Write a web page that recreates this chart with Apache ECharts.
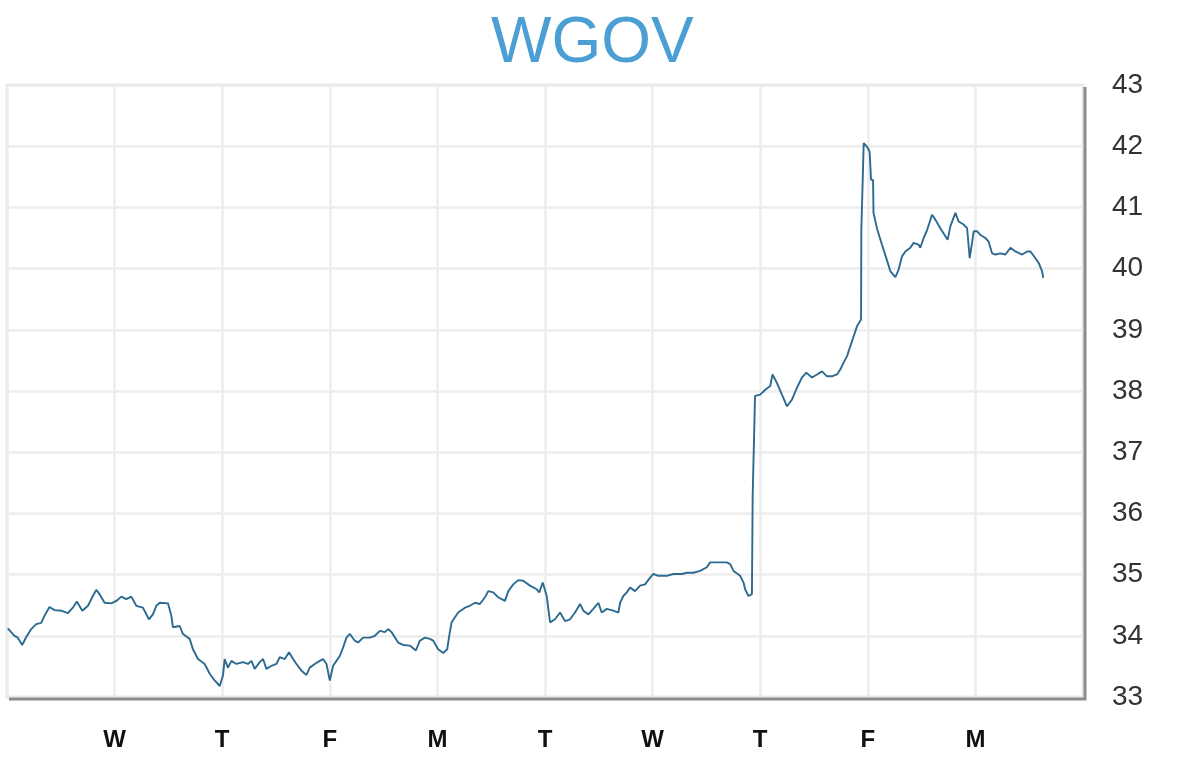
<!DOCTYPE html>
<html>
<head>
<meta charset="utf-8">
<script src="https://cdn.jsdelivr.net/npm/echarts@6/dist/echarts.min.js"></script>
<style>
  html, body { margin: 0; padding: 0; background: #ffffff; }
  #chart { width: 1200px; height: 771px; }
</style>
</head>
<body>
<div id="chart"></div>
<script>
// Chart title
const chartTitle = 'WGOV';

// X tick labels (trading days), placed at day boundaries 1..9
const dayLabels = ['W', 'T', 'F', 'M', 'T', 'W', 'T', 'F', 'M'];

// Y tick range
const yMin = 33;
const yMax = 43;

// Time position (in trading days from the left edge) of each price sample
const times = [
  0.007,0.070,0.100,0.141,0.179,0.225,0.272,0.318,0.349,0.395,0.442,0.504,0.566,0.612,0.649,0.700,0.752,0.798,0.830,0.860,
  0.907,0.969,1.016,1.062,1.109,1.155,1.202,1.263,1.319,1.356,1.388,1.419,1.496,1.527,1.542,1.605,1.635,1.698,1.728,1.775,
  1.837,1.884,1.930,1.977,2.007,2.023,2.054,2.086,2.132,2.193,2.240,2.272,2.302,2.349,2.380,2.411,2.458,2.504,2.535,2.581,
  2.621,2.659,2.690,2.737,2.783,2.814,2.860,2.907,2.938,2.969,3.000,3.031,3.062,3.093,3.124,3.155,3.186,3.233,3.263,3.310,
  3.372,3.419,3.465,3.512,3.542,3.574,3.635,3.682,3.744,3.800,3.837,3.884,3.930,3.961,4.007,4.054,4.091,4.110,4.132,4.193,
  4.256,4.302,4.349,4.395,4.442,4.473,4.519,4.565,4.628,4.659,4.705,4.752,4.798,4.860,4.923,4.947,4.979,4.993,5.016,5.031,
  5.047,5.093,5.140,5.186,5.233,5.279,5.326,5.356,5.403,5.449,5.496,5.527,5.574,5.635,5.682,5.698,5.728,5.760,5.791,5.837,
  5.884,5.930,5.977,6.007,6.054,6.132,6.193,6.272,6.318,6.380,6.442,6.504,6.535,6.597,6.690,6.721,6.752,6.814,6.845,6.860,
  6.891,6.923,6.930,6.952,7.000,7.047,7.093,7.114,7.156,7.202,7.249,7.295,7.341,7.388,7.428,7.481,7.528,7.574,7.621,7.667,
  7.714,7.744,7.774,7.807,7.837,7.868,7.900,7.937,7.940,7.962,7.993,8.017,8.030,8.049,8.053,8.086,8.132,8.179,8.209,8.256,
  8.286,8.318,8.349,8.395,8.426,8.472,8.488,8.519,8.551,8.597,8.628,8.674,8.721,8.742,8.767,8.814,8.844,8.891,8.923,8.947,
  8.969,8.984,9.016,9.047,9.093,9.123,9.155,9.186,9.233,9.279,9.326,9.372,9.435,9.481,9.512,9.558,9.589,9.621,9.630
];

// Price at each sample
const prices = [
  34.12,34.00,33.97,33.85,33.98,34.11,34.19,34.21,34.33,34.47,34.42,34.41,34.37,34.46,34.56,34.41,34.49,34.65,34.75,34.68,
  34.54,34.53,34.57,34.64,34.60,34.64,34.49,34.46,34.27,34.35,34.49,34.54,34.53,34.33,34.14,34.16,34.03,33.95,33.78,33.62,
  33.54,33.38,33.27,33.18,33.35,33.62,33.48,33.59,33.54,33.57,33.54,33.59,33.46,33.57,33.62,33.46,33.51,33.54,33.65,33.62,
  33.73,33.62,33.54,33.43,33.36,33.48,33.54,33.59,33.62,33.54,33.27,33.51,33.59,33.67,33.81,33.97,34.03,33.92,33.89,33.97,
  33.97,34.00,34.08,34.06,34.11,34.06,33.89,33.85,33.84,33.76,33.92,33.97,33.95,33.92,33.78,33.72,33.78,34.00,34.22,34.38,
  34.46,34.49,34.54,34.52,34.63,34.73,34.71,34.63,34.57,34.73,34.84,34.91,34.90,34.82,34.76,34.71,34.87,34.87,34.65,34.44,
  34.22,34.27,34.38,34.24,34.27,34.38,34.52,34.41,34.35,34.44,34.54,34.38,34.44,34.41,34.38,34.54,34.65,34.71,34.79,34.73,
  34.82,34.84,34.95,35.01,34.98,34.98,35.01,35.01,35.03,35.03,35.06,35.12,35.20,35.20,35.20,35.17,35.06,34.98,34.87,34.76,
  34.65,34.68,36.28,37.92,37.94,38.02,38.08,38.27,38.13,37.94,37.75,37.86,38.05,38.22,38.30,38.22,38.27,38.32,38.24,38.24,
  38.27,38.35,38.46,38.57,38.73,38.89,39.06,39.17,40.63,42.05,41.99,41.91,41.45,41.45,40.91,40.65,40.39,40.13,39.96,39.86,
  39.98,40.20,40.28,40.34,40.42,40.39,40.34,40.50,40.63,40.88,40.80,40.66,40.53,40.47,40.69,40.91,40.77,40.72,40.66,40.17,
  40.42,40.61,40.61,40.55,40.50,40.44,40.25,40.23,40.25,40.23,40.34,40.28,40.23,40.28,40.28,40.17,40.09,39.95,39.85
];

const seriesData = times.map((t, i) => [t, prices[i]]);

// Plot frame geometry (styling only)
const W = 1200, H = 771;
const gLeft = 7, gRight = 117, gTop = 85, gBottom = 74;
const frameR = W - gRight + 2;
const frameB = H - gBottom + 2;

const chart = echarts.init(document.getElementById('chart'), null, { renderer: 'canvas' });

chart.setOption({
  animation: false,
  backgroundColor: '#ffffff',
  title: {
    text: chartTitle,
    left: 491,
    top: 12,
    padding: 0,
    textStyle: {
      color: '#4b9fd4',
      fontFamily: 'Liberation Sans',
      fontSize: 64,
      fontWeight: 'normal'
    }
  },
  grid: {
    left: gLeft,
    right: gRight,
    top: gTop,
    bottom: gBottom,
    show: true,
    backgroundColor: '#ffffff',
    borderColor: '#dcdcdc',
    borderWidth: 2.5
  },
  graphic: [{
    type: 'polyline',
    silent: true,
    z: 10,
    shape: { points: [[frameR, gTop + 2], [frameR, frameB], [gLeft + 2, frameB]] },
    style: { stroke: '#8c8c8c', lineWidth: 3, fill: null }
  }],
  xAxis: {
    type: 'value',
    min: 0,
    max: dayLabels.length + 1,
    interval: 1,
    axisLine: { show: false },
    axisTick: { show: false },
    splitLine: { show: true, lineStyle: { color: '#ededed', width: 2.5 } },
    axisLabel: {
      margin: 31,
      color: '#111111',
      fontFamily: 'Liberation Sans',
      fontWeight: 'bold',
      fontSize: 24,
      showMinLabel: true,
      showMaxLabel: true,
      formatter: function (v) {
        const i = Math.round(v) - 1;
        return (i >= 0 && i < dayLabels.length) ? dayLabels[i] : '';
      }
    }
  },
  yAxis: {
    type: 'value',
    position: 'right',
    min: yMin,
    max: yMax,
    interval: 1,
    axisLine: { show: false },
    axisTick: { show: false },
    splitLine: { show: true, lineStyle: { color: '#ededed', width: 2.5 } },
    axisLabel: {
      margin: 29,
      color: '#333333',
      fontFamily: 'Liberation Sans',
      fontSize: 28,
      showMinLabel: true,
      showMaxLabel: true
    }
  },
  series: [{
    type: 'line',
    data: seriesData,
    showSymbol: false,
    smooth: false,
    clip: true,
    lineStyle: { color: '#2d6a8f', width: 1.9 }
  }]
});
</script>
</body>
</html>
